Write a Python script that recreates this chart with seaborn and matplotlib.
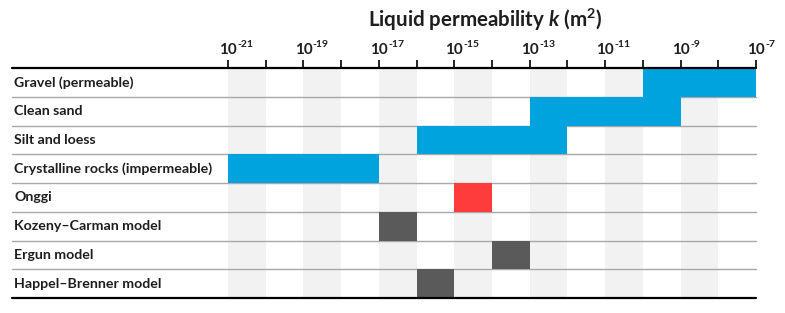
import numpy as np
import pandas as pd
import matplotlib
matplotlib.use("Agg")
import matplotlib.pyplot as plt
from matplotlib.colors import ListedColormap
import seaborn as sns

# data: permeability ranges as log10 exponents (m^2)
materials = ["Gravel (permeable)", "Clean sand", "Silt and loess",
             "Crystalline rocks (impermeable)", "Onggi", "Kozeny\u2013Carman model",
             "Ergun model", "Happel\u2013Brenner model"]
low_exp = [-10, -13, -16, -21, -15, -17, -14, -16]
high_exp = [-7, -9, -12, -17, -14, -16, -13, -15]
kind = [1, 1, 1, 1, 2, 3, 3, 3]  # 1 = material, 2 = onggi, 3 = model
exponents = list(range(-21, -6))  # decade edges 1e-21 .. 1e-7

BLUE = "#00A3DD"
RED = "#FF3C3C"
DARK = "#5A5A5A"
BAND = "#F2F2F2"
SEP = "#A8A8A8"
INK = "#1E1E1E"

sns.set_style("white")
plt.rcParams["font.family"] = ["Lato", "DejaVu Sans"]
plt.rcParams["mathtext.fontset"] = "custom"
plt.rcParams["mathtext.rm"] = "Lato:bold"
plt.rcParams["mathtext.bf"] = "Lato:bold"
plt.rcParams["mathtext.it"] = "Lato:bold:italic"

# one column per decade, value = colour class of the bar covering it
decades = exponents[:-1]
grid = pd.DataFrame(np.nan, index=materials, columns=decades)
for name, lo, hi, k in zip(materials, low_exp, high_exp, kind):
    for d in decades:
        if lo <= d < hi:
            grid.loc[name, d] = k

fig = plt.figure(figsize=(7.85, 3.13), dpi=100)
ax = fig.add_axes([228 / 785, 1 - 298 / 313, 528 / 785, 230 / 313])

# alternating decade bands
for i in range(0, len(decades), 2):
    ax.axvspan(i, i + 1, color=BAND, lw=0, zorder=0)

sns.heatmap(grid, mask=grid.isna(), cmap=ListedColormap([BLUE, RED, DARK]),
            vmin=0.5, vmax=3.5, cbar=False, ax=ax)
ax.collections[-1].set_zorder(3)

n = len(materials)
x_left = (12 - 228) / 528
for r in range(1, n):
    ax.axhline(r, xmin=x_left, xmax=1, color=SEP, lw=1.0, clip_on=False, zorder=2)
ax.axhline(0, xmin=x_left, xmax=1, color="black", lw=1.6, clip_on=False, zorder=4)
ax.axhline(n, xmin=x_left, xmax=1, color="black", lw=1.6, clip_on=False, zorder=4)

for r, name in enumerate(materials):
    ax.text(x_left + 0.004, r + 0.5, name, transform=ax.get_yaxis_transform(),
            ha="left", va="center", fontsize=10.2, fontweight="bold", color=INK)

ax.set_xlim(0, len(decades))
ax.set_ylim(n, 0)
ax.set_yticks([])
ax.xaxis.tick_top()
ax.set_xticks(range(len(exponents)))
ax.set_xticklabels([])
ax.tick_params(axis="x", top=True, bottom=False, direction="out", length=6,
               width=1.2, color="black")
ax.set_xlabel("")
ax.set_ylabel("")
for s in ax.spines.values():
    s.set_visible(False)

# decade labels: "10" centred on the tick, exponent hanging to the right
tx = ax.get_xaxis_transform()
for i, e in enumerate(exponents):
    if e % 2 == 0:
        continue
    ax.annotate("10", (i, 1), xycoords=tx, xytext=(0, 10), textcoords="offset points",
                ha="center", va="baseline", fontsize=11, fontweight="bold", color=INK)
    ax.annotate("-%d" % abs(e), (i, 1), xycoords=tx, xytext=(6.8, 15),
                textcoords="offset points", ha="left", va="baseline",
                fontsize=7.5, fontweight="bold", color=INK)

fig.text(485 / 785, 1 - 27 / 313, r"Liquid permeability $k$ (m$^2$)", ha="center",
         va="baseline", fontsize=14.8, fontweight="bold", color=INK)

fig.savefig("out.png", dpi=100)
